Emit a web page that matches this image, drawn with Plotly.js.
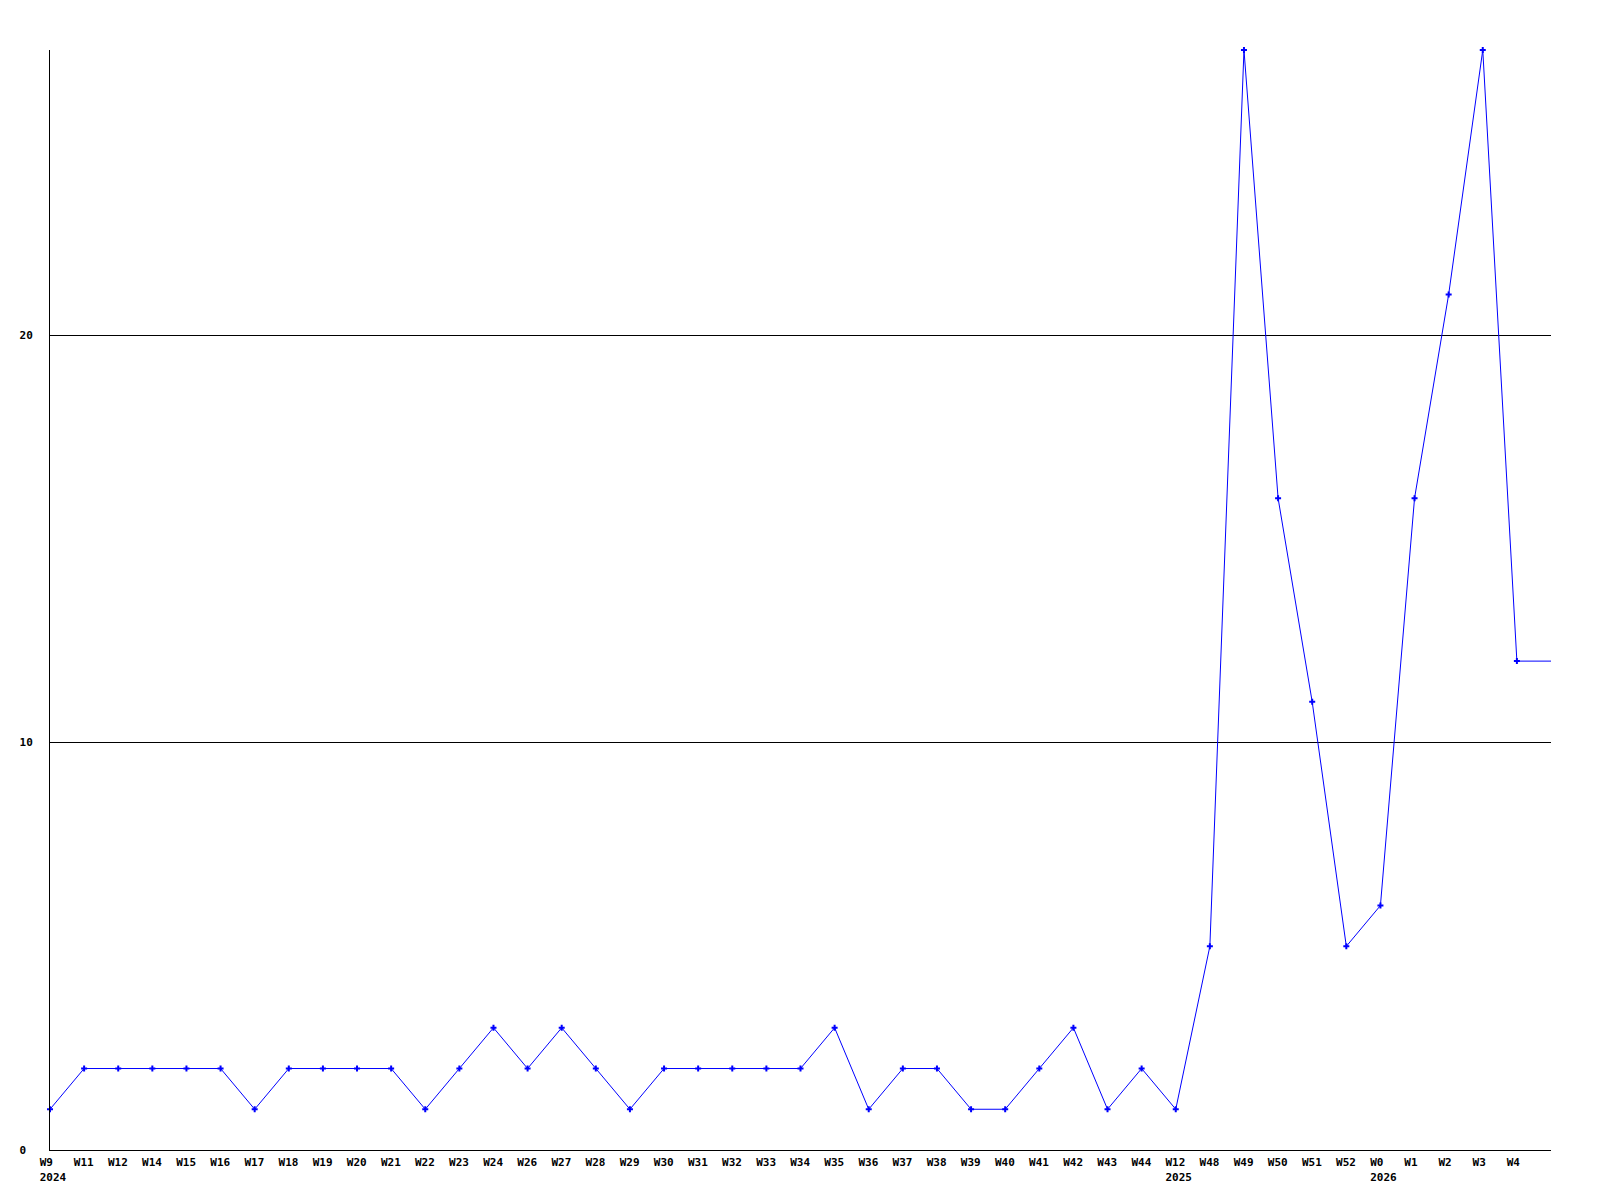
<!DOCTYPE html>
<html>
<head>
<meta charset="utf-8">
<script src="https://cdn.plot.ly/plotly-3.0.1.min.js"></script>
<style>html,body{margin:0;padding:0;background:#fff;}#chart{width:1600px;height:1200px;}</style>
</head>
<body>
<div id="chart"></div>
<script>
// Week labels along the x axis
const weeks = ["W9","W11","W12","W14","W15","W16","W17","W18","W19","W20","W21","W22","W23","W24","W26","W27","W28","W29","W30","W31","W32","W33","W34","W35","W36","W37","W38","W39","W40","W41","W42","W43","W44","W12","W48","W49","W50","W51","W52","W0","W1","W2","W3","W4"];
// Year shown under the first week of each year
const years = {0: "2024", 33: "2025", 39: "2026"};
// Weekly counts
const counts = [1,2,2,2,2,2,1,2,2,2,2,1,2,3,2,3,2,1,2,2,2,2,2,3,1,2,2,1,1,2,3,1,2,1,5,27,16,11,5,6,16,21,27,12];
// Y axis ticks
const yTicks = [0, 10, 20];
const yTickText = ["0\u00a0", "10", "20"];

const idx = counts.map((_, i) => i);
const pad = s => s + "\u00a0".repeat(Math.max(0, 4 - s.length));
const tickText = weeks.map((w, i) => years[i] ? pad(w) + "<br>" + years[i] : pad(w));

// line continues flat at the last value to the right edge of the plot
const lineX = idx.concat([counts.length]);
const lineY = counts.concat([counts[counts.length - 1]]);

const font = {family: "DejaVu Sans Mono, monospace", size: 11, color: "#000", weight: "bold"};

const traces = [
  {x: lineX, y: lineY, type: "scatter", mode: "lines", line: {color: "#0000ff", width: 1}, hoverinfo: "skip", showlegend: false, cliponaxis: false},
  {x: idx, y: counts, type: "scatter", mode: "markers", marker: {color: "#0000ff", symbol: "cross", size: 5}, showlegend: false, cliponaxis: false}
];

const layout = {
  width: 1600, height: 1200,
  margin: {l: 50, r: 49, t: 50, b: 50},
  paper_bgcolor: "#fff", plot_bgcolor: "#fff",
  showlegend: false,
  font: font,
  xaxis: {
    range: [0, counts.length], tickvals: idx, ticktext: tickText,
    showgrid: false, zeroline: false, showline: true, linecolor: "#000", linewidth: 1,
    ticks: "", tickfont: font, ticklabelshift: 3, ticklabelstandoff: 2, tickangle: 0
  },
  yaxis: {
    range: [0, 27], tickvals: yTicks, ticktext: yTickText,
    showgrid: true, gridcolor: "#000", gridwidth: 1, zeroline: false,
    showline: true, linecolor: "#000", linewidth: 1,
    ticks: "", tickfont: font, ticklabelstandoff: 14
  }
};

Plotly.newPlot("chart", traces, layout, {displayModeBar: false, staticPlot: true});
</script>
</body>
</html>
